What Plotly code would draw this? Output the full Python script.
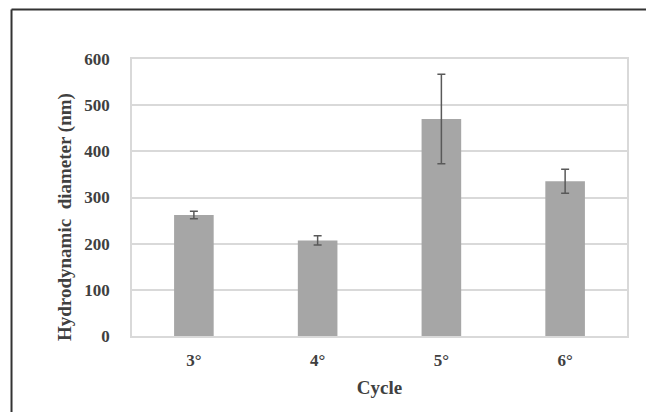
import plotly.graph_objects as go

cycles = ["3°", "4°", "5°", "6°"]
diameters = [262, 207, 470, 335]
errors = [8, 10, 97, 26]
y_ticks = [0, 100, 200, 300, 400, 500, 600]

fig = go.Figure()
fig.add_trace(go.Bar(
    x=cycles, y=diameters,
    marker=dict(color="#a6a6a6", line=dict(width=0)),
    error_y=dict(type="data", array=errors, visible=True,
                 color="#595959", thickness=1.5, width=4),
    width=0.32,
))

font_fam = "Liberation Serif, Times New Roman, serif"
fig.update_layout(
    width=646, height=404,
    margin=dict(l=124, r=27, t=51, b=76),
    paper_bgcolor="white", plot_bgcolor="white",
    showlegend=False,
    font=dict(family=font_fam, color="#404040"),
    bargap=0.68,
    xaxis=dict(
        showgrid=False, showline=True, linecolor="#d9d9d9", linewidth=1.5,
        mirror=True, ticks="", ticklen=0, ticklabelstandoff=8,
        tickfont=dict(family=font_fam, size=17, color="#404040", weight="bold"),
        title=dict(text="<b>Cycle</b>", font=dict(family=font_fam, size=19, color="#404040"), standoff=12),
    ),
    yaxis=dict(
        range=[0, 600], tickvals=y_ticks, ticktext=[str(v) for v in y_ticks],
        showgrid=True, gridcolor="#d9d9d9", gridwidth=1.5,
        showline=True, linecolor="#d9d9d9", linewidth=1.5, mirror=True,
        zeroline=False, ticks="", ticklen=0, ticklabelstandoff=17,
        tickfont=dict(family=font_fam, size=17, color="#404040", weight="bold"),
    ),
    annotations=[
        dict(text="<b>Hydrodynamic  diameter (nm)</b>", xref="paper", yref="paper",
             x=-0.1354, y=0.4296, xanchor="center", yanchor="middle", textangle=-90,
             showarrow=False, font=dict(family=font_fam, size=19, color="#404040")),
    ],
    shapes=[
        dict(type="line", xref="paper", yref="paper", x0=-0.2434, x1=1.1, y0=1.1787, y1=1.1787,
             line=dict(color="#333333", width=2)),
        dict(type="line", xref="paper", yref="paper", x0=-0.2434, x1=-0.2434, y0=1.1787, y1=-0.35,
             line=dict(color="#333333", width=2)),
    ],
)

fig.write_html("out.html")
